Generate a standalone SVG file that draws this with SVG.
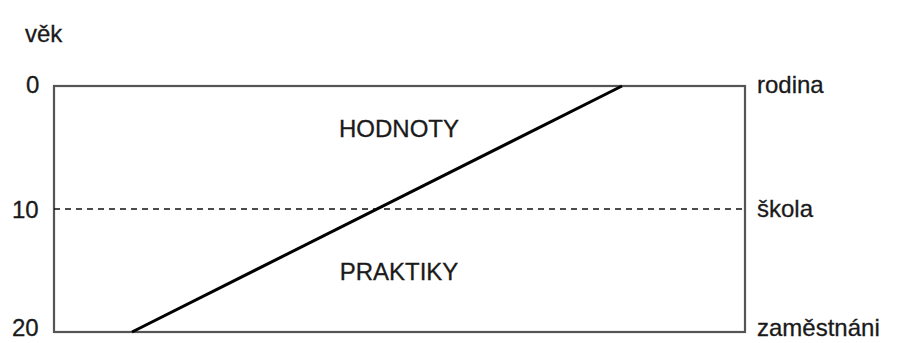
<svg xmlns="http://www.w3.org/2000/svg" width="900" height="343" viewBox="0 0 900 343">
<style>
text{font-family:"Liberation Sans",Arial,sans-serif;font-size:24px;fill:#1a1a1a;stroke:#1a1a1a;stroke-width:0.3}
.frame{fill:none;stroke:#555;stroke-width:2.2}
.dash{stroke:#111;stroke-width:1.6;stroke-dasharray:6,5}
.diag{stroke:#000;stroke-width:3}
</style>
<rect width="900" height="343" fill="#fff"/>
<g id="axis">
<text x="25" y="42" font-size="25">věk</text>
<text x="26" y="93">0</text>
<text x="12" y="218">10</text>
<text x="12" y="336">20</text>
</g>
<g id="chart">
<rect class="frame" x="54" y="86" width="691" height="246"/>
<line class="dash" x1="54" y1="209" x2="745" y2="209"/>
</g>
<g id="connectors">
<line class="diag" x1="132" y1="332" x2="622" y2="86"/>
</g>
<g id="labels">
<text x="399" y="137" text-anchor="middle" font-size="26">HODNOTY</text>
<text x="399" y="280" text-anchor="middle" font-size="26">PRAKTIKY</text>
<text x="757" y="93">rodina</text>
<text x="757" y="217">škola</text>
<text x="757" y="336">zaměstnáni</text>
</g>
</svg>
